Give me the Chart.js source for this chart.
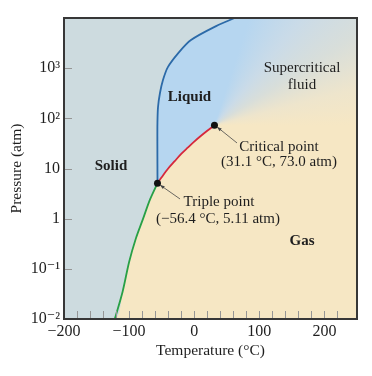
<!DOCTYPE html>
<html>
<head>
<meta charset="utf-8">
<script src="https://cdn.jsdelivr.net/npm/chart.js@4.4.0/dist/chart.umd.min.js"></script>
<style>
  html, body { margin: 0; padding: 0; background: #fff; }
</style>
</head>
<body>
<canvas id="phaseChart" width="372" height="376"></canvas>
<script>
// Phase diagram of CO2 - temperature (°C) vs pressure (atm, log)
const sublimationT = [-122, -110, -100, -90, -78.5, -68, -56.4];
const sublimationP = [0.01, 0.035, 0.137, 0.39, 1, 2.4, 5.11];
const vaporT = [-56.4, -50, -40, -30, -20, -10, 0, 10, 20, 31.1];
const vaporP = [5.11, 6.7, 10, 14, 19.5, 26, 34.4, 44.4, 56.5, 73];
const meltingT = [-56.4, -56.6, -56.5, -55.6, -52.6, -48, -40.5, -24.5, -5, 33.6, 62];
const meltingP = [5.11, 30, 80, 168, 320, 580, 1050, 2000, 3640, 6900, 10000];
const specialT = [-56.4, 31.1];
const specialP = [5.11, 73];

const xTickValues = [-200, -100, 0, 100, 200];
const xTickLabels = ['\u2212200', '\u2212100', '0', '100', '200'];
const yTickValues = [0.01, 0.1, 1, 10, 100, 1000];
const yTickLabels = ['10\u207B\u00B2', '10\u207B\u00B9', '1', '10', '10\u00B2', '10\u00B3'];

const toPoints = (xs, ys) => xs.map((x, i) => ({ x: x, y: ys[i] }));

const SERIF = "'Liberation Serif', 'DejaVu Serif', serif";
const COL_SOLID = 'rgb(205,219,223)';
const COL_LIQUID = 'rgb(182,214,240)';
const COL_GAS = 'rgb(246,231,196)';

// region boundaries for the fills
const solidEdge = [{ x: -200, y: 0.01 }].concat(toPoints(sublimationT, sublimationP), toPoints(meltingT, meltingP).slice(1));
const gasEdge = toPoints(sublimationT, sublimationP).concat(toPoints(vaporT, vaporP).slice(1));

const textLabels = [
    { text: 'Solid', t: -127.8, p: 11.2, bold: true },
    { text: 'Liquid', t: -7.3, p: 267, bold: true },
    { text: 'Supercritical', t: 165.5, p: 1009 },
    { text: 'fluid', t: 165.5, p: 462 },
    { text: 'Critical point', t: 130.2, p: 26.9 },
    { text: '(31.1 \u00B0C, 73.0 atm)', t: 130.2, p: 13.5 },
    { text: 'Triple point', t: 38, p: 2.15 },
    { text: '(\u221256.4 \u00B0C, 5.11 atm)', t: 36.5, p: 0.99 },
    { text: 'Gas', t: 165.5, p: 0.36, bold: true }
];
const arrows = [
    { from: [-21.8, 2.47], to: [-52.6, 4.7] },
    { from: [65.7, 32.3], to: [35, 67.5] }
];

const backdrop = {
    id: 'backdrop',
    beforeDatasetsDraw(chart) {
        const { ctx, chartArea: a, scales } = chart;
        const cx = scales.x.getPixelForValue(specialT[1]);
        const cy = scales.y.getPixelForValue(specialP[1]);
        const g = ctx.createConicGradient(0, cx, cy);
        g.addColorStop(0, COL_GAS);
        g.addColorStop(0.25, COL_GAS);
        g.addColorStop(0.3, COL_LIQUID);
        g.addColorStop(0.8, COL_LIQUID);
        g.addColorStop(0.86, 'rgb(202,219,232)');
        g.addColorStop(0.91, 'rgb(216,222,218)');
        g.addColorStop(0.96, 'rgb(238,229,204)');
        g.addColorStop(1, COL_GAS);
        ctx.save();
        ctx.fillStyle = g;
        ctx.fillRect(a.left, a.top, a.right - a.left, a.bottom - a.top);
        ctx.restore();
    },
    afterDatasetsDraw(chart) {
        const { ctx, chartArea: a, scales } = chart;
        const xs = scales.x, ys = scales.y;
        ctx.save();
        // inner tick marks
        ctx.strokeStyle = 'rgb(150,150,150)';
        ctx.lineWidth = 1;
        xs.ticks.forEach(t => {
            const px = Math.round(xs.getPixelForValue(t.value)) + 0.5;
            ctx.beginPath();
            ctx.moveTo(px, a.bottom);
            ctx.lineTo(px, a.bottom - 8);
            ctx.stroke();
        });
        yTickValues.forEach(v => {
            const py = Math.round(ys.getPixelForValue(v)) + 0.5;
            ctx.beginPath();
            ctx.moveTo(a.left, py);
            ctx.lineTo(a.left + 8, py);
            ctx.stroke();
        });
        // callout arrows
        ctx.strokeStyle = 'rgb(70,70,70)';
        ctx.fillStyle = 'rgb(70,70,70)';
        ctx.lineWidth = 0.8;
        arrows.forEach(ar => {
            const x1 = xs.getPixelForValue(ar.from[0]), y1 = ys.getPixelForValue(ar.from[1]);
            const x2 = xs.getPixelForValue(ar.to[0]), y2 = ys.getPixelForValue(ar.to[1]);
            ctx.beginPath();
            ctx.moveTo(x1, y1);
            ctx.lineTo(x2, y2);
            ctx.stroke();
            const ang = Math.atan2(y2 - y1, x2 - x1);
            ctx.beginPath();
            ctx.moveTo(x2, y2);
            ctx.lineTo(x2 - 5 * Math.cos(ang - 0.35), y2 - 5 * Math.sin(ang - 0.35));
            ctx.lineTo(x2 - 5 * Math.cos(ang + 0.35), y2 - 5 * Math.sin(ang + 0.35));
            ctx.closePath();
            ctx.fill();
        });
        // labels
        ctx.fillStyle = '#1e1e1e';
        ctx.textAlign = 'center';
        ctx.textBaseline = 'middle';
        textLabels.forEach(l => {
            ctx.font = (l.bold ? 'bold ' : '') + '15px ' + SERIF;
            ctx.fillText(l.text, xs.getPixelForValue(l.t), ys.getPixelForValue(l.p));
        });
        // frame
        ctx.strokeStyle = 'rgb(55,55,55)';
        ctx.lineWidth = 2;
        ctx.strokeRect(a.left, a.top, a.right - a.left, a.bottom - a.top);
        ctx.restore();
    }
};

new Chart(document.getElementById('phaseChart'), {
    type: 'line',
    data: {
        datasets: [
            {
                data: toPoints(specialT, specialP),
                showLine: false,
                pointRadius: 3.5,
                pointBackgroundColor: '#111',
                pointBorderWidth: 0
            },
            {
                data: toPoints(meltingT, meltingP),
                borderColor: 'rgb(44,106,168)',
                borderWidth: 1.8,
                pointRadius: 0,
                tension: 0.3,
                fill: false
            },
            {
                data: toPoints(vaporT, vaporP),
                borderColor: 'rgb(214,40,60)',
                borderWidth: 1.8,
                pointRadius: 0,
                tension: 0.3,
                fill: false
            },
            {
                data: toPoints(sublimationT, sublimationP),
                borderColor: 'rgb(40,160,70)',
                borderWidth: 1.8,
                pointRadius: 0,
                tension: 0.3,
                fill: false
            },
            {
                data: solidEdge,
                borderWidth: 0,
                borderColor: 'rgba(0,0,0,0)',
                backgroundColor: COL_SOLID,
                pointRadius: 0,
                tension: 0.3,
                fill: 'end'
            },
            {
                data: gasEdge,
                borderWidth: 0,
                borderColor: 'rgba(0,0,0,0)',
                backgroundColor: COL_GAS,
                pointRadius: 0,
                tension: 0.3,
                fill: 'start'
            }
        ]
    },
    options: {
        responsive: false,
        animation: false,
        layout: { padding: { top: 18, right: 15, left: 0, bottom: 0 } },
        plugins: {
            legend: { display: false },
            tooltip: { enabled: false }
        },
        scales: {
            x: {
                type: 'linear',
                min: -200,
                max: 250,
                grid: { display: false, drawTicks: false, tickLength: 0 },
                border: { display: false },
                afterFit: s => { s.height = 57; },
                ticks: {
                    stepSize: 20,
                    autoSkip: false,
                    maxRotation: 0,
                    padding: 3,
                    color: '#1e1e1e',
                    font: { family: SERIF, size: 16 },
                    callback: v => {
                        const i = xTickValues.indexOf(v);
                        return i >= 0 ? xTickLabels[i] : '';
                    }
                },
                title: {
                    display: true,
                    text: 'Temperature (\u00B0C)',
                    color: '#1e1e1e',
                    font: { family: SERIF, size: 15.5 },
                    padding: { top: 0, bottom: 16 }
                }
            },
            y: {
                type: 'logarithmic',
                min: 0.01,
                max: 10000,
                grid: { display: false, drawTicks: false, tickLength: 0 },
                border: { display: false },
                afterFit: s => { s.width = 64; },
                afterBuildTicks: s => { s.ticks = yTickValues.map(v => ({ value: v })); },
                ticks: {
                    autoSkip: false,
                    padding: 4,
                    color: '#1e1e1e',
                    font: { family: SERIF, size: 16 },
                    callback: v => {
                        const i = yTickValues.indexOf(v);
                        return i >= 0 ? yTickLabels[i] : '';
                    }
                },
                title: {
                    display: true,
                    text: 'Pressure (atm)',
                    color: '#1e1e1e',
                    font: { family: SERIF, size: 15.5 },
                    padding: { top: 8, bottom: 0 }
                }
            }
        }
    },
    plugins: [backdrop]
});
</script>
</body>
</html>
